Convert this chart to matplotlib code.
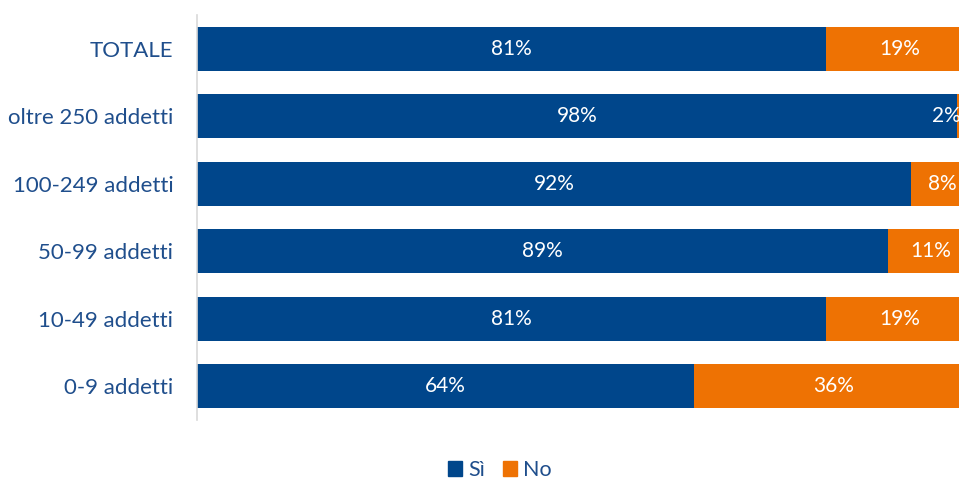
import matplotlib.pyplot as plt
from matplotlib.patches import Patch

categorie = ["TOTALE", "oltre 250 addetti", "100-249 addetti", "50-99 addetti", "10-49 addetti", "0-9 addetti"]
si = [81, 98, 92, 89, 81, 64]
no = [19, 2, 8, 11, 19, 36]

BLU = "#00468B"
ARANCIO = "#EE7203"
TESTO = "#1F4E8C"

plt.rcParams["font.family"] = ["Lato", "DejaVu Sans"]

fig = plt.figure(figsize=(9.59, 4.79), dpi=100)
ax = fig.add_axes([197 / 959, 1 - 420 / 479, 776 / 959, 405 / 479])

pos = list(range(len(categorie)))[::-1]
ax.barh(pos, si, height=0.65, color=BLU)
ax.barh(pos, no, left=si, height=0.65, color=ARANCIO)

for y, s, n in zip(pos, si, no):
    ax.text(s / 2, y, f"{s}%", color="white", ha="center", va="center", fontsize=15)
    # etichetta della parte "No", tenuta dentro l'area del grafico
    xn = min(s + n / 2, 96.6)
    ax.text(xn, y, f"{n}%", color="white", ha="center", va="center", fontsize=15)

ax.set_xlim(0, 100)
ax.set_ylim(-0.5, len(categorie) - 0.5)
ax.set_yticks(pos)
ax.set_yticklabels(categorie, fontsize=16, color=TESTO)
ax.tick_params(axis="y", length=0, pad=17)
ax.set_xticks([])
for lato in ["top", "right", "bottom"]:
    ax.spines[lato].set_visible(False)
ax.spines["left"].set_color("#D9D9D9")
ax.spines["left"].set_linewidth(1.2)

handles = [Patch(color=BLU, label="Sì"), Patch(color=ARANCIO, label="No")]
leg = fig.legend(handles=handles, loc="center", bbox_to_anchor=(500 / 959, 1 - 470 / 479),
                 ncol=2, frameon=False, fontsize=15.5, handlelength=0.65, handleheight=0.65,
                 handletextpad=0.3, columnspacing=0.8)
for t in leg.get_texts():
    t.set_color(TESTO)

fig.savefig("out.png", dpi=100)
